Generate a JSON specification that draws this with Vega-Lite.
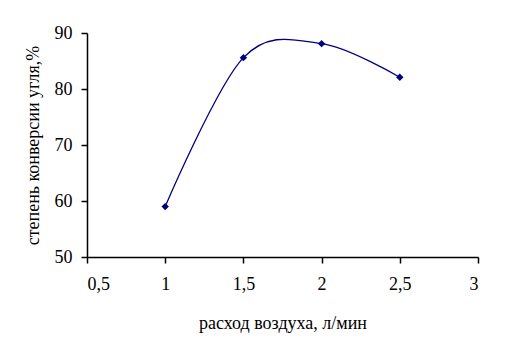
{
  "$schema": "https://vega.github.io/schema/vega-lite/v6.json",
  "autosize": "none",
  "width": 391,
  "height": 224,
  "padding": {"left": 87, "top": 33, "right": 29, "bottom": 97},
  "background": "white",
  "config": {
    "view": {"stroke": null},
    "font": "Times New Roman, Liberation Serif, DejaVu Serif, serif",
    "axis": {
      "grid": false,
      "domainColor": "black",
      "tickColor": "black",
      "domainWidth": 1.5,
      "tickWidth": 1.5,
      "tickSize": 6,
      "labelFont": "Times New Roman, Liberation Serif, DejaVu Serif, serif",
      "labelFontSize": 18,
      "labelColor": "black",
      "titleFont": "Times New Roman, Liberation Serif, DejaVu Serif, serif",
      "titleFontSize": 18,
      "titleFontWeight": "normal",
      "titleColor": "black"
    }
  },
  "data": {
    "values": [
      {"x": 1, "y": 59},
      {"x": 1.5, "y": 85.6},
      {"x": 2, "y": 88.1},
      {"x": 2.5, "y": 82.1}
    ]
  },
  "encoding": {
    "x": {
      "field": "x",
      "type": "quantitative",
      "scale": {"domain": [0.5, 3], "nice": false, "zero": false},
      "axis": {
        "values": [0.5, 1, 1.5, 2, 2.5, 3],
        "labelExpr": "replace(format(datum.value, ''), '.', ',')",
        "labelPadding": 12,
        "title": "расход воздуха, л/мин",
        "titlePadding": 21
      }
    },
    "y": {
      "field": "y",
      "type": "quantitative",
      "scale": {"domain": [50, 90], "nice": false, "zero": false},
      "axis": {
        "values": [50, 60, 70, 80, 90],
        "labelPadding": 9,
        "title": "степень конверсии угля,%",
        "titlePadding": 12
      }
    }
  },
  "layer": [
    {
      "mark": {"type": "line", "interpolate": "cardinal", "tension": 0, "color": "#000080", "strokeWidth": 1.3}
    },
    {
      "mark": {"type": "point", "shape": "diamond", "filled": true, "size": 55, "color": "#000080", "opacity": 1}
    }
  ]
}
